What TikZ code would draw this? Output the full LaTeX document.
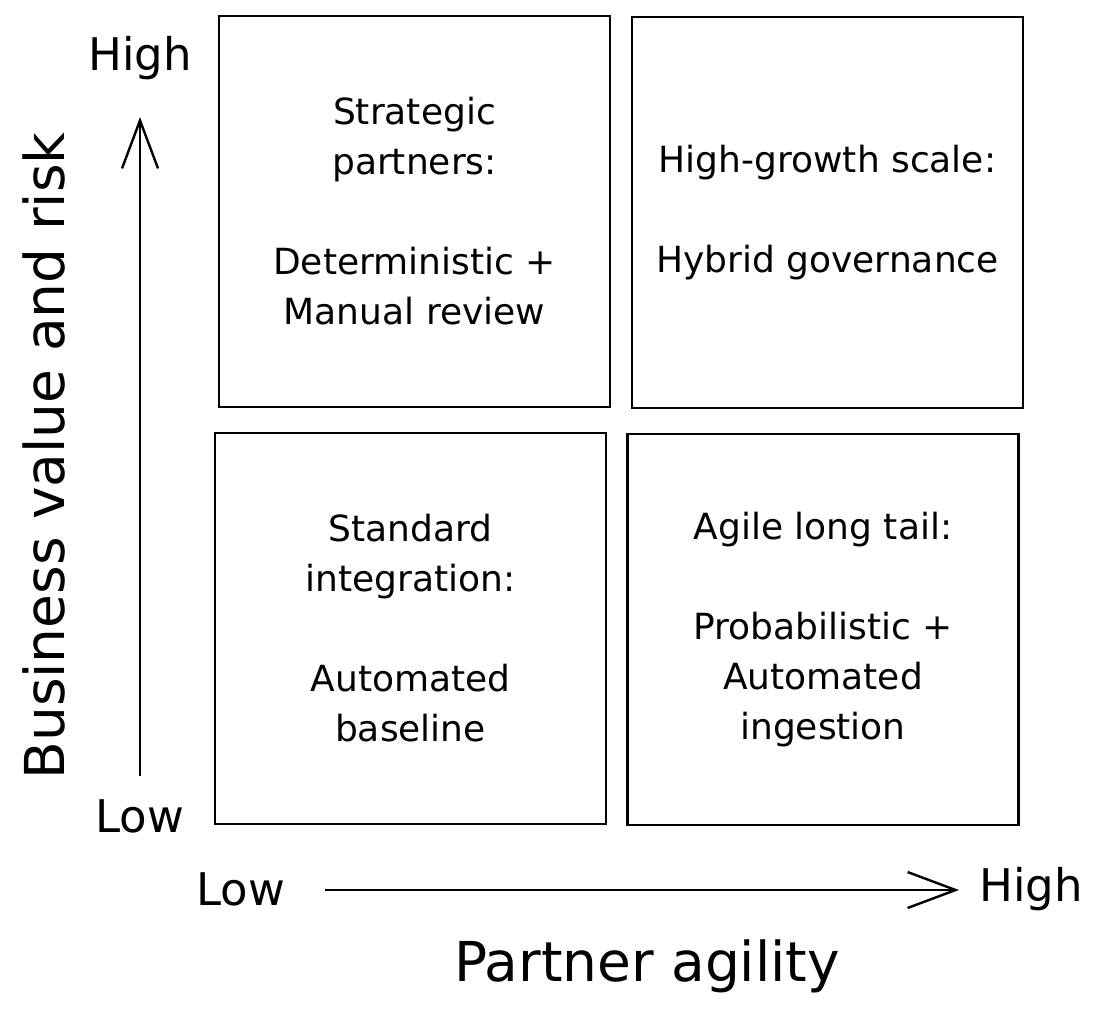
\documentclass[tikz,border=0pt]{standalone}
\usepackage{fontspec}
\setmainfont{DejaVu Sans}
\usetikzlibrary{arrows.meta}

\begin{document}
\begin{tikzpicture}[x=1pt, y=-1pt, >={Straight Barb[length=48pt, width=36pt, line width=2.4pt]},
  quad/.style={draw, line width=2.4pt, minimum width=391pt, minimum height=391pt, inner sep=0pt, align=center, font=\fontsize{36}{50}\selectfont},
  tick/.style={font=\fontsize{45}{50}\selectfont},
  title/.style={font=\fontsize{55}{60}\selectfont}]
  \useasboundingbox (0,0) rectangle (1119,1017);
  % quadrants
  \node[quad] (strategic) at (414.5,211.5) {Strategic\\partners:\\[50pt]Deterministic +\\Manual review};
  \node[quad] (growth) at (827.5,212.5) {High-growth scale:\\[50pt]Hybrid governance};
  \node[quad] (standard) at (410.5,628.5) {Standard\\integration:\\[50pt]Automated\\baseline};
  \node[quad] (longtail) at (823,629.5) {Agile long tail:\\[50pt]Probabilistic +\\Automated\\ingestion};
  % axes
  \coordinate (yfoot) at (140,776);
  \coordinate (ytip) at (140,117);
  \coordinate (xfoot) at (325,890);
  \coordinate (xtip) at (959,890);
  \draw[->, line width=2.4pt] (yfoot) -- (ytip);
  \draw[->, line width=2.4pt] (xfoot) -- (xtip);
  \node[tick] (yhigh) at (140,58) {High};
  \node[tick] (ylow) at (140,816) {Low};
  \node[tick] (xlow) at (241,889) {Low};
  \node[tick] (xhigh) at (1031,889) {High};
  \node[title, rotate=90] (ytitle) at (44,456) {Business value and risk};
  \node[title] (xtitle) at (647,966) {Partner agility};
\end{tikzpicture}
\end{document}
